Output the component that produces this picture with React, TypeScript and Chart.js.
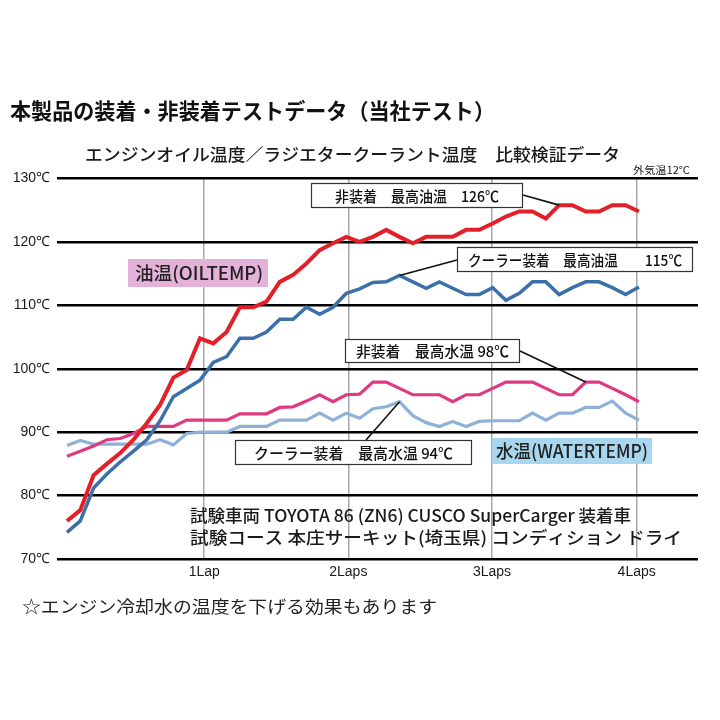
import React, { useEffect, useRef } from "react";
import { Chart, registerables } from "chart.js";

Chart.register(...registerables);

// ---- data (one sample every ~1/11 lap) ----
const lapLabels = ["1Lap", "2Laps", "3Laps", "4Laps"];
const lapPositions = [10.32, 21.15, 31.95, 42.83]; // sample index at each lap mark
const yTickValues = [70, 80, 90, 100, 110, 120, 130];

// 非装着 油温
const oilStock = [
  76, 77.7, 83.2, 85, 86.7, 88.8, 91.4, 94.3, 98.6, 99.8, 104.8, 104, 105.8, 109.7, 109.7,
  110.6, 113.7, 114.8, 116.6, 118.7, 119.8, 120.8, 120, 120.8, 121.9, 120.8, 119.8, 120.8,
  120.8, 120.8, 121.9, 121.9, 122.9, 124, 124.8, 124.8, 123.7, 125.8, 125.8, 124.8, 124.8,
  125.8, 125.8, 124.8,
];
// クーラー装着 油温
const oilCooler = [
  74.2, 76, 81.2, 83.4, 85.3, 87, 88.8, 91.8, 95.6, 96.9, 98.2, 101, 101.9, 104.8, 104.8,
  105.8, 107.8, 107.8, 109.7, 108.6, 109.7, 111.9, 112.6, 113.6, 113.7, 114.7, 113.7, 112.7,
  113.7, 112.7, 111.7, 111.7, 112.8, 110.8, 111.9, 113.7, 113.7, 111.7, 112.8, 113.7, 113.7,
  112.8, 111.7, 112.9,
];
// 非装着 水温
const waterStock = [
  86.2, 87, 87.8, 88.8, 89, 89.8, 90.9, 90.9, 90.9, 91.9, 91.9, 91.9, 91.9, 92.9, 92.9, 92.9,
  93.9, 94, 94.9, 95.9, 94.8, 95.9, 96, 97.9, 97.9, 96.9, 95.9, 95.9, 95.9, 94.8, 95.9, 95.9,
  96.9, 97.9, 97.9, 97.9, 96.9, 95.9, 95.9, 97.9, 97.9, 96.9, 95.9, 94.8,
];
// クーラー装着 水温
const waterCooler = [
  87.9, 88.7, 88.1, 88.1, 88.1, 88.1, 88.1, 88.8, 88, 89.8, 90, 90, 90, 90.9, 90.9, 90.9,
  91.9, 91.9, 91.9, 93, 91.9, 93, 92.2, 93.7, 94, 94.8, 92.6, 91.5, 90.9, 91.7, 90.9, 91.7,
  91.8, 91.8, 91.8, 93, 91.9, 93, 93, 93.9, 93.9, 94.9, 93, 91.9,
];

const titleText = "本製品の装着・非装着テストデータ（当社テスト）";
const subtitleText = "エンジンオイル温度／ラジエタークーラント温度　比較検証データ";
const ambientText = "外気温12℃";
const vehicleLine1 = "試験車両 TOYOTA 86 (ZN6) CUSCO SuperCarger 装着車";
const vehicleLine2 = "試験コース 本庄サーキット(埼玉県) コンディション ドライ";
const noteText = "☆エンジン冷却水の温度を下げる効果もあります";
const oilLabel = "油温(OILTEMP)";
const waterLabel = "水温(WATERTEMP)";

// callouts: text, box [left, top, right, bottom], text width, leader start, target series & sample index
const callouts = [
  { text: "非装着　最高油温　126℃", box: [311, 183, 523, 208], tw: 164, from: [523, 195], series: oilStock, idx: 37 },
  { text: "クーラー装着　最高油温　　115℃", box: [457, 247, 693, 272], tw: 214, from: [457, 260], series: oilCooler, idx: 25 },
  { text: "非装着　最高水温 98℃", box: [345, 339, 520, 363], tw: 153, from: [520, 351], series: waterStock, idx: 39 },
  { text: "クーラー装着　最高水温 94℃", box: [235, 440, 472, 465], tw: 199, from: [366, 440], series: waterCooler, idx: 25 },
];

const JP = '"Noto Sans CJK JP", "Noto Sans", sans-serif';
const NUM = '"Liberation Sans Narrow", "Liberation Sans", Arial, sans-serif';

function fitText(ctx: CanvasRenderingContext2D, text: string, x: number, y: number, w: number, align: "left" | "center") {
  const m = ctx.measureText(text).width;
  const s = m > 0 ? w / m : 1;
  ctx.save();
  ctx.textBaseline = "middle";
  ctx.textAlign = "left";
  const left = align === "center" ? x - w / 2 : x;
  ctx.translate(left, y);
  ctx.scale(s, 1);
  ctx.fillText(text, 0, 0);
  ctx.restore();
}

const overlayPlugin = {
  id: "overlay",
  afterDatasetsDraw(chart: any) {
    const ctx: CanvasRenderingContext2D = chart.ctx;
    const xs = chart.scales.x;
    const ys = chart.scales.y;
    ctx.save();
    // series labels with coloured backgrounds
    ctx.fillStyle = "#e4b1d8";
    ctx.fillRect(128, 259, 140, 28);
    ctx.fillStyle = "#a9d6ef";
    ctx.fillRect(492, 438, 160, 26);
    ctx.fillStyle = "#222";
    ctx.font = `500 18px ${JP}`;
    fitText(ctx, oilLabel, 135, 273.5, 128, "left");
    fitText(ctx, waterLabel, 496, 451, 152, "left");

    // callouts
    for (const c of callouts) {
      const tx = xs.getPixelForValue(c.idx);
      const ty = ys.getPixelForValue(c.series[c.idx]);
      ctx.strokeStyle = "#111";
      ctx.lineWidth = 1.6;
      ctx.beginPath();
      ctx.moveTo(c.from[0], c.from[1]);
      ctx.lineTo(tx, ty);
      ctx.stroke();
      const [l, t, r, b] = c.box;
      ctx.fillStyle = "#ffffff";
      ctx.fillRect(l, t, r - l, b - t);
      ctx.strokeStyle = "#333";
      ctx.lineWidth = 1.2;
      ctx.strokeRect(l + 0.5, t + 0.5, r - l - 1, b - t - 1);
      ctx.fillStyle = "#111";
      ctx.font = `500 15px ${JP}`;
      fitText(ctx, c.text, (l + r) / 2, (t + b) / 2 + 0.5, c.tw, "center");
    }

    // vehicle info
    ctx.fillStyle = "#1a1a1a";
    ctx.font = `500 17px ${JP}`;
    fitText(ctx, vehicleLine1, 190, 516, 441, "left");
    fitText(ctx, vehicleLine2, 190, 538, 492, "left");
    ctx.restore();
  },
  afterDraw(chart: any) {
    const ctx: CanvasRenderingContext2D = chart.ctx;
    ctx.save();
    ctx.fillStyle = "#111";
    ctx.font = `bold 22px ${JP}`;
    fitText(ctx, titleText, 10, 111, 485, "left");
    ctx.fillStyle = "#1a1a1a";
    ctx.font = `500 17px ${JP}`;
    fitText(ctx, subtitleText, 85, 155, 535, "left");
    ctx.font = `10px ${JP}`;
    fitText(ctx, ambientText, 633, 170, 57, "left");
    ctx.fillStyle = "#222";
    ctx.font = `17px ${JP}`;
    fitText(ctx, noteText, 22, 607, 415, "left");
    ctx.restore();
  },
};

export default function App() {
  const ref = useRef<HTMLCanvasElement>(null);
  useEffect(() => {
    if (!ref.current) return;
    const toPts = (arr: number[]) => arr.map((v, i) => ({ x: i, y: v }));
    const chart = new Chart(ref.current, {
      type: "line",
      data: {
        datasets: [
          { label: "非装着 油温", data: toPts(oilStock), borderColor: "#e3202a", borderWidth: 4 },
          { label: "クーラー装着 油温", data: toPts(oilCooler), borderColor: "#3c70a9", borderWidth: 3.5 },
          { label: "非装着 水温", data: toPts(waterStock), borderColor: "#df3a7f", borderWidth: 3.2 },
          { label: "クーラー装着 水温", data: toPts(waterCooler), borderColor: "#8fb1d8", borderWidth: 3.2 },
        ] as any,
      },
      options: {
        animation: false,
        responsive: false,
        devicePixelRatio: 1,
        parsing: false as any,
        elements: {
          point: { radius: 0 },
          line: { tension: 0, borderCapStyle: "butt", borderJoinStyle: "miter", fill: false },
        },
        layout: { padding: { top: 178.5, left: 0, right: 22, bottom: 131 } },
        plugins: { legend: { display: false }, tooltip: { enabled: false }, title: { display: false } },
        scales: {
          x: {
            type: "linear",
            min: -0.75,
            max: 47.44,
            afterBuildTicks: (s: any) => {
              s.ticks = lapPositions.map((v) => ({ value: v }));
            },
            afterFit: (s: any) => {
              s.height = 30;
            },
            ticks: {
              autoSkip: false,
              maxRotation: 0,
              padding: 5,
              color: "#1a1a1a",
              font: { family: NUM, size: 14 },
              callback: (_v: any, i: number) => lapLabels[i],
            },
            grid: { color: "#a8a8a8", lineWidth: 1.5, drawTicks: false },
            border: { display: false },
          },
          y: {
            type: "linear",
            min: 70,
            max: 130,
            afterBuildTicks: (s: any) => {
              s.ticks = yTickValues.map((v) => ({ value: v }));
            },
            afterFit: (s: any) => {
              s.width = 57;
            },
            ticks: {
              padding: 7,
              color: "#1a1a1a",
              font: { family: NUM, size: 14 },
              callback: (v: any) => `${v}℃`,
            },
            grid: { color: "#000", lineWidth: 2.5, drawTicks: false },
            border: { display: false },
          },
        },
      },
      plugins: [overlayPlugin],
    } as any);
    return () => chart.destroy();
  }, []);
  return (
    <div style={{ position: "absolute", left: 0, top: 0, width: 720, height: 720, background: "#fff" }}>
      <canvas ref={ref} width={720} height={720} style={{ display: "block" }} />
    </div>
  );
}
